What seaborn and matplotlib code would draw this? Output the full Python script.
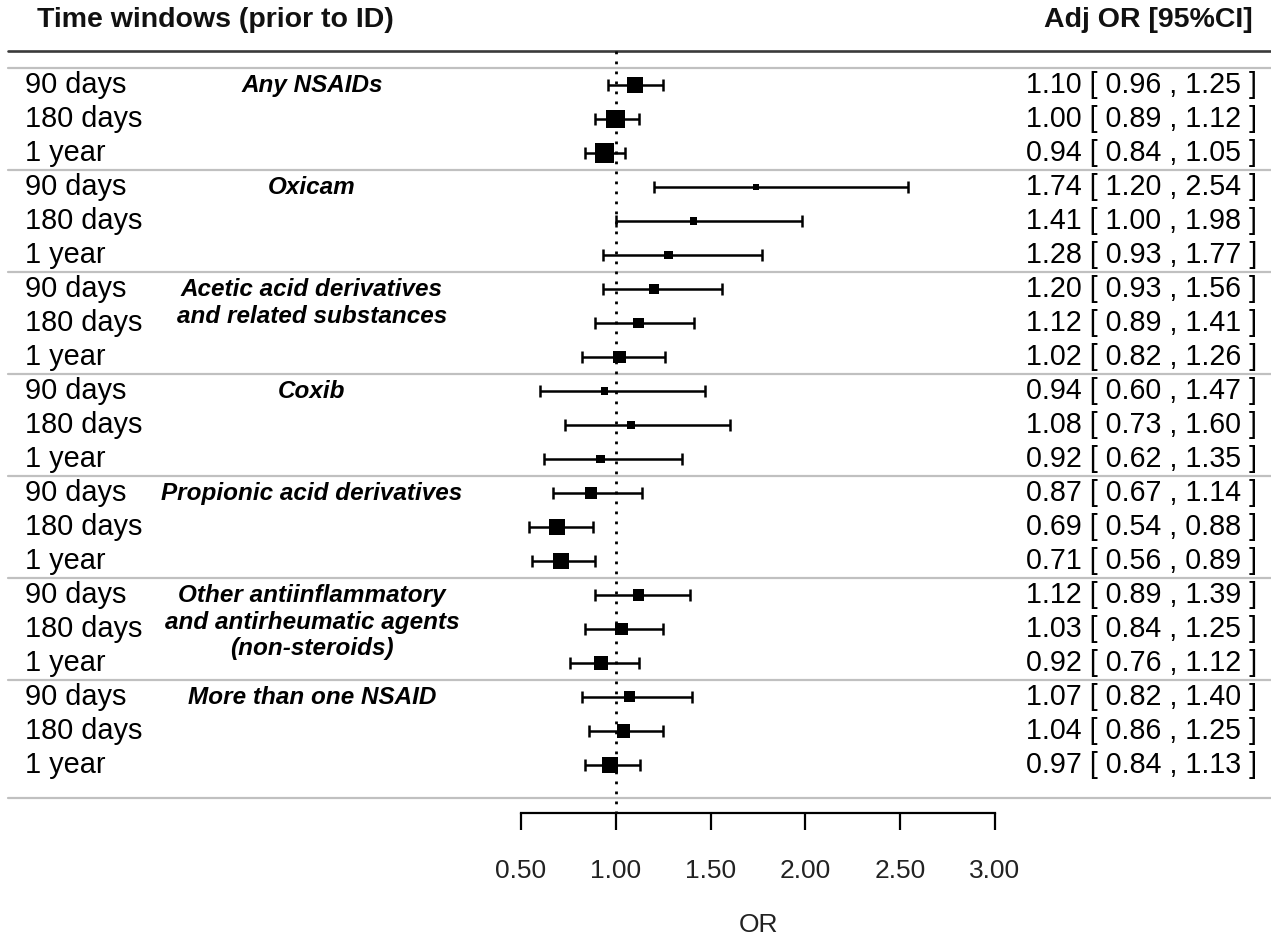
import numpy as np
import pandas as pd
import matplotlib
matplotlib.use("Agg")
import matplotlib.pyplot as plt
import seaborn as sns

# --- data ---
groups = ["Any NSAIDs", "Oxicam", "Acetic acid derivatives\nand related substances", "Coxib",
          "Propionic acid derivatives",
          "Other antiinflammatory\nand antirheumatic agents\n(non-steroids)",
          "More than one NSAID"]
windows = ["90 days", "180 days", "1 year"]
or_vals = [1.10, 1.00, 0.94, 1.74, 1.41, 1.28, 1.20, 1.12, 1.02, 0.94, 1.08, 0.92,
           0.87, 0.69, 0.71, 1.12, 1.03, 0.92, 1.07, 1.04, 0.97]
ci_low = [0.96, 0.89, 0.84, 1.20, 1.00, 0.93, 0.93, 0.89, 0.82, 0.60, 0.73, 0.62,
          0.67, 0.54, 0.56, 0.89, 0.84, 0.76, 0.82, 0.86, 0.84]
ci_high = [1.25, 1.12, 1.05, 2.54, 1.98, 1.77, 1.56, 1.41, 1.26, 1.47, 1.60, 1.35,
           1.14, 0.88, 0.89, 1.39, 1.25, 1.12, 1.40, 1.25, 1.13]
# box side (weight) in pixels
box_px = [15, 17, 18, 6, 7, 8, 9, 9.5, 11.5, 7, 7, 8,
          10.5, 14, 14.5, 10.5, 11.5, 12.5, 10, 12, 15]
x_ticks = [0.5, 1.0, 1.5, 2.0, 2.5, 3.0]

sns.set_theme(style="white")
plt.rcParams['font.family'] = ['Liberation Sans', 'DejaVu Sans']

W, H, DPI = 1271, 938, 100
PT = DPI / 72.0
fig = plt.figure(figsize=(W / DPI, H / DPI), dpi=DPI)
ax = fig.add_axes([0, 0, 1, 1])

# layout: pixel scale of the OR axis
x0_px, x1_px = 521, 995
ppu = (x1_px - x0_px) / (x_ticks[-1] - x_ticks[0])
ax.set_xlim(x_ticks[0] - x0_px / ppu, x_ticks[0] + (W - x0_px) / ppu)
ax.set_ylim(H, 0)
ax.axis("off")

row_h = 34
first_row = 85
n = len(or_vals)
df = pd.DataFrame({
    "group": np.repeat(groups, 3),
    "window": windows * len(groups),
    "OR": or_vals, "lo": ci_low, "hi": ci_high,
    "y": first_row + row_h * np.arange(n),
    "s": (1.1 * np.array(box_px) / PT) ** 2,
})
tr = ax.get_yaxis_transform()

# header
ax.text(37 / W, 20, "Time windows (prior to ID)", transform=tr,
        fontsize=20.5, fontweight="bold", ha="left", va="center", color="#111111")
ax.text(1253 / W, 20, "Adj OR [95%CI]", transform=tr,
        fontsize=20.5, fontweight="bold", ha="right", va="center", color="#111111")
ax.plot([8 / W, 1], [51, 51], transform=tr, color="#3a3a3a", lw=1.9)

# separators
seps = [first_row - row_h / 2 + 3 * row_h * k for k in range(len(groups))] + [798]
for ys in seps:
    ax.plot([8 / W, 1], [ys, ys], transform=tr, color="#c0c0c0", lw=1.6)

# reference line at OR = 1
ax.vlines(1.0, 51, 813, colors="black", linestyles=(0, (1.0, 2.6)), lw=2.0)

# confidence intervals and boxes
ax.errorbar(df["OR"], df["y"], xerr=[df["OR"] - df["lo"], df["hi"] - df["OR"]],
            fmt="none", ecolor="black", elinewidth=1.8, capsize=4.5, capthick=1.8)
sns.scatterplot(data=df, x="OR", y="y", s=df["s"], marker="s", color="black",
                linewidth=0, ax=ax, legend=False, zorder=5)

# text columns
for _, r in df.iterrows():
    ax.text(25 / W, r["y"], r["window"], transform=tr,
            fontsize=20.8, ha="left", va="center", color="black")
    ax.text(1257 / W, r["y"], f"{r['OR']:.2f} [ {r['lo']:.2f} , {r['hi']:.2f} ]",
            transform=tr, fontsize=20.6, ha="right", va="center", color="black")

for k, g in enumerate(groups):
    ax.text(312 / W, first_row + 3 * row_h * k - 11, g, transform=tr,
            fontsize=17.5, fontweight="bold", fontstyle="italic", ha="center", va="top",
            linespacing=1.2, color="black")

# bottom OR axis
ax2 = fig.add_axes([x0_px / W, (H - 813) / H, (x1_px - x0_px) / W, 0.001])
ax2.set_xlim(x_ticks[0], x_ticks[-1])
ax2.set_xticks(x_ticks)
ax2.set_xticklabels([f"{t:.2f}" for t in x_ticks])
ax2.set_yticks([])
ax2.patch.set_alpha(0)
for side in ["top", "left", "right"]:
    ax2.spines[side].set_visible(False)
ax2.spines["bottom"].set_color("black")
ax2.spines["bottom"].set_linewidth(1.6)
ax2.tick_params(axis="x", direction="out", length=12, width=1.6, color="black",
                labelsize=19, pad=21, bottom=True, labelcolor="#222222")
ax2.set_xlabel("OR", fontsize=19, labelpad=22, color="#222222")

fig.savefig("out.png", dpi=DPI)
